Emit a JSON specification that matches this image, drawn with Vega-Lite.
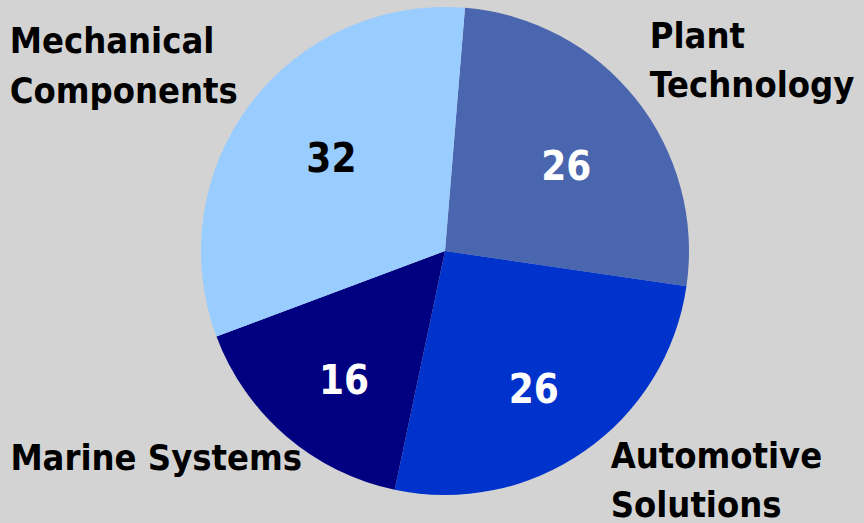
{
  "$schema": "https://vega.github.io/schema/vega-lite/v6.json",
  "autosize": {"type": "none"},
  "width": 838,
  "height": 502,
  "padding": {"left": 26, "top": 0, "right": 0, "bottom": 21},
  "background": "#D3D3D3",
  "config": {"view": {"stroke": null}},
  "data": {
    "values": [
      {"idx": 1, "category": "Plant Technology", "label": "Plant\nTechnology", "value": 26},
      {"idx": 2, "category": "Automotive Solutions", "label": "Automotive\nSolutions", "value": 26},
      {"idx": 3, "category": "Marine Systems", "label": "Marine Systems", "value": 16},
      {"idx": 4, "category": "Mechanical Components", "label": "Mechanical\nComponents", "value": 32}
    ]
  },
  "encoding": {
    "theta": {"field": "value", "type": "quantitative", "stack": true, "scale": {"range": [0.082, 6.3652]}},
    "order": {"field": "idx", "type": "quantitative"}
  },
  "layer": [
    {
      "mark": {"type": "arc", "outerRadius": 244},
      "encoding": {
        "color": {
          "field": "category", "type": "nominal", "legend": null,
          "scale": {
            "domain": ["Plant Technology", "Automotive Solutions", "Marine Systems", "Mechanical Components"],
            "range": ["#4A66AE", "#0033CC", "#000080", "#99CCFF"]
          }
        }
      }
    },
    {
      "mark": {"type": "text", "radius": 155, "dy": 13, "fontSize": 40, "fontWeight": "bold", "font": "DejaVu Sans Condensed", "align": "center", "baseline": "middle", "color": "#FFFFFF"},
      "encoding": {
        "text": {"condition": {"test": "datum.category !== 'Mechanical Components'", "field": "value", "type": "quantitative"}, "value": ""}
      }
    },
    {
      "mark": {"type": "text", "radius": 155, "dx": 10, "dy": 2, "fontSize": 40, "fontWeight": "bold", "font": "DejaVu Sans Condensed", "align": "center", "baseline": "middle", "color": "#000000"},
      "encoding": {
        "text": {"condition": {"test": "datum.category === 'Mechanical Components'", "field": "value", "type": "quantitative"}, "value": ""}
      }
    },
    {
      "mark": {"type": "text", "radius": 300, "dx": -30, "dy": -16, "fontSize": 36, "fontWeight": "bold", "font": "DejaVu Sans Condensed", "align": "left", "baseline": "alphabetic", "lineBreak": "\n", "lineHeight": 49, "color": "#000000"},
      "encoding": {"text": {"condition": {"test": "datum.category === 'Plant Technology'", "field": "label"}, "value": ""}}
    },
    {
      "mark": {"type": "text", "radius": 300, "dx": -6, "dy": -29, "fontSize": 36, "fontWeight": "bold", "font": "DejaVu Sans Condensed", "align": "left", "baseline": "alphabetic", "lineBreak": "\n", "lineHeight": 49, "color": "#000000"},
      "encoding": {"text": {"condition": {"test": "datum.category === 'Automotive Solutions'", "field": "label"}, "value": ""}}
    },
    {
      "mark": {"type": "text", "radius": 300, "dx": -239, "dy": -8, "fontSize": 36, "fontWeight": "bold", "font": "DejaVu Sans Condensed", "align": "left", "baseline": "alphabetic", "lineBreak": "\n", "lineHeight": 49, "color": "#000000"},
      "encoding": {"text": {"condition": {"test": "datum.category === 'Marine Systems'", "field": "label"}, "value": ""}}
    },
    {
      "mark": {"type": "text", "radius": 300, "dx": -196, "dy": -17, "fontSize": 36, "fontWeight": "bold", "font": "DejaVu Sans Condensed", "align": "left", "baseline": "alphabetic", "lineBreak": "\n", "lineHeight": 50, "color": "#000000"},
      "encoding": {"text": {"condition": {"test": "datum.category === 'Mechanical Components'", "field": "label"}, "value": ""}}
    }
  ]
}
